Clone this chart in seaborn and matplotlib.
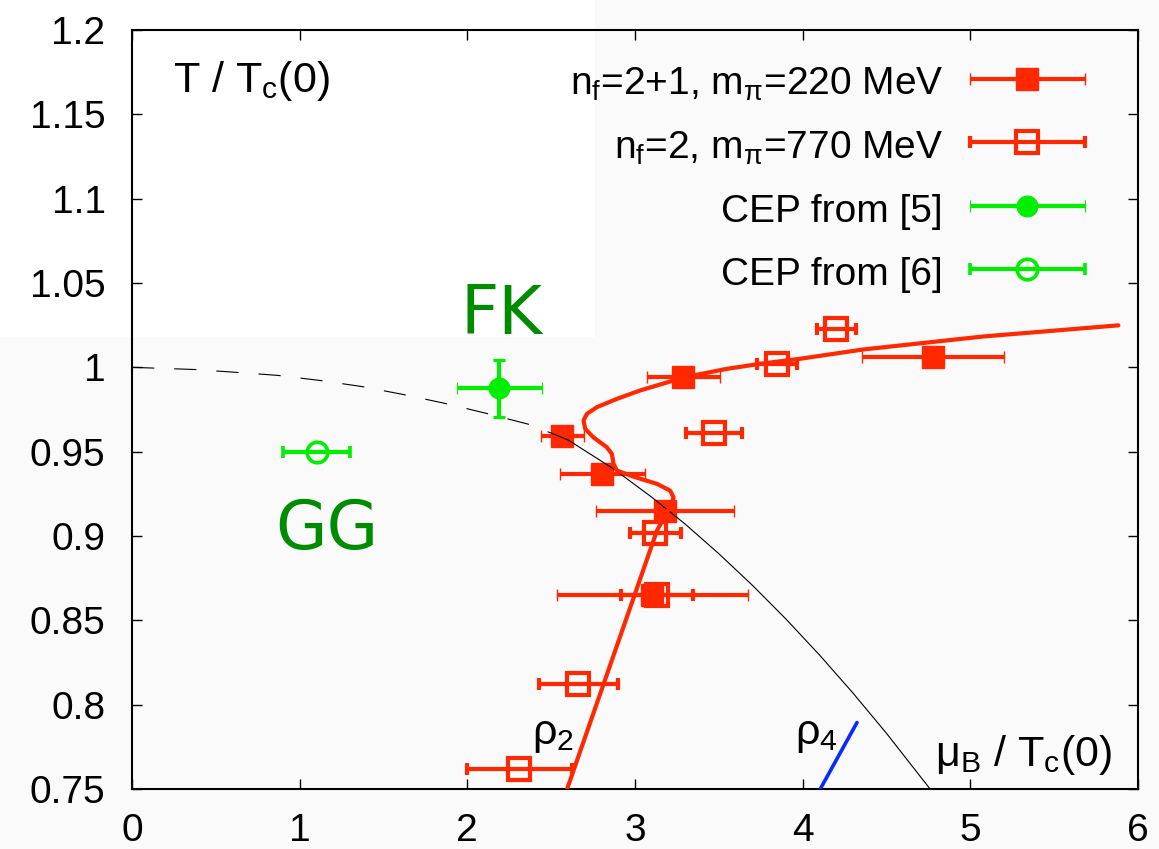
import numpy as np
import matplotlib
matplotlib.use("Agg")
import matplotlib.pyplot as plt
import seaborn as sns
from matplotlib.patches import Rectangle
from matplotlib.legend_handler import HandlerErrorbar
from matplotlib.container import ErrorbarContainer

# ---------------- data ----------------
# n_f = 2+1, m_pi = 220 MeV (filled squares)
nf21_mu = [3.288, 2.566, 2.804, 3.180, 3.103, 4.779]
nf21_T = [0.994, 0.959, 0.937, 0.915, 0.865, 1.006]
nf21_err = [0.218, 0.128, 0.254, 0.412, 0.569, 0.424]

# n_f = 2, m_pi = 770 MeV (open squares)
nf2_mu = [4.200, 3.848, 3.473, 3.121, 3.133, 2.661, 2.309]
nf2_T = [1.0225, 1.0017, 0.961, 0.902, 0.865, 0.812, 0.762]
nf2_err = [0.116, 0.120, 0.167, 0.152, 0.215, 0.236, 0.313]

# CEP from [5] (FK)
cep5_mu = [2.190]
cep5_T = [0.9875]
cep5_xerr = [0.254]
cep5_yerr = [0.0171]

# CEP from [6] (GG)
cep6_mu = [1.102]
cep6_T = [0.950]
cep6_xerr = [0.199]

# red curve
red_mu = [2.595, 3.131, 3.215, 3.230, 3.210, 3.131, 2.991, 2.892, 2.872, 2.862,
          2.832, 2.752, 2.703, 2.693, 2.713, 2.773, 2.892, 3.031, 3.230, 3.349,
          3.548, 3.747, 3.986, 4.362, 5.078, 5.883]
red_T = [0.750, 0.9032, 0.9185, 0.9229, 0.9269, 0.9309, 0.9352, 0.9388, 0.9428, 0.9487,
         0.9526, 0.9585, 0.9635, 0.9685, 0.9724, 0.9764, 0.9813, 0.9863, 0.9922, 0.9952,
         0.9991, 1.0021, 1.0051, 1.0106, 1.0183, 1.0249]

# black curve, dashed part and solid part
blk_dash_mu = [0.0, 0.376, 0.626, 0.873, 1.122, 1.372, 1.617, 1.868, 2.118, 2.375, 2.60]
blk_dash_T = [1.0, 0.9987, 0.997, 0.9952, 0.9922, 0.9886, 0.9839, 0.9786, 0.9726, 0.966, 0.957]
blk_sol_mu = [2.60, 2.872, 3.10, 3.30, 3.50, 3.70, 3.90, 4.10, 4.30, 4.50, 4.76]
blk_sol_T = [0.957, 0.9398, 0.923, 0.907, 0.8895, 0.8708, 0.8508, 0.8295, 0.8069, 0.783, 0.75]

# blue rho_4 segment
blue_mu = [4.105, 4.324]
blue_T = [0.75, 0.7894]

xticks = [0, 1, 2, 3, 4, 5, 6]
xtick_labels = ["0", "1", "2", "3", "4", "5", "6"]
yticks = [0.75, 0.8, 0.85, 0.9, 0.95, 1.0, 1.05, 1.1, 1.15, 1.2]
ytick_labels = ["0.75", "0.8", "0.85", "0.9", "0.95", "1", "1.05", "1.1", "1.15", "1.2"]

labels = ["n$_f$=2+1, m$_\\pi$=220 MeV", "n$_f$=2, m$_\\pi$=770 MeV",
          "CEP from [5]", "CEP from [6]"]

# ---------------- style ----------------
sns.set_theme(style="ticks")
plt.rcParams["font.family"] = ["Liberation Sans", "DejaVu Sans"]
plt.rcParams["mathtext.fontset"] = "custom"
plt.rcParams["mathtext.rm"] = "Liberation Sans"
plt.rcParams["mathtext.it"] = "Liberation Sans:italic"
plt.rcParams["mathtext.default"] = "rm"
plt.rcParams["text.color"] = "black"
plt.rcParams["axes.labelcolor"] = "black"
plt.rcParams["xtick.color"] = "black"
plt.rcParams["ytick.color"] = "black"
plt.rcParams["legend.labelcolor"] = "black"

RED = "#ff2800"
GREEN = "#00ee00"
DKGREEN = "#008c00"
BLUE = "#0a28ff"

W, H = 1159, 849
fig = plt.figure(figsize=(W / 100, H / 100), dpi=100, facecolor="#fafafa")
fig.add_artist(Rectangle((0, 1 - 337 / H), 595 / W, 337 / H, transform=fig.transFigure,
                         facecolor="white", edgecolor="none", zorder=-5))
ax = fig.add_axes([132 / W, 1 - 789 / H, (1138 - 132) / W, (789 - 30) / H])
ax.set_facecolor("none")

eb_kw = dict(ls="none", capsize=4.5, capthick=2.3, elinewidth=3.0, zorder=2.5)

h1 = ax.errorbar(nf21_mu, nf21_T, xerr=nf21_err, fmt="s", color=RED, ms=16,
                 mec=RED, mew=1, label=labels[0], **eb_kw)
h2 = ax.errorbar(nf2_mu, nf2_T, xerr=nf2_err, fmt="s", color=RED, ms=16.5,
                 mfc="none", mec=RED, mew=3.0, label=labels[1], **eb_kw)
h3 = ax.errorbar(cep5_mu, cep5_T, xerr=cep5_xerr, fmt="o", color=GREEN, ms=15,
                 mec=GREEN, mew=0.8, label=labels[2], **eb_kw)
ax.errorbar(cep5_mu, cep5_T, yerr=cep5_yerr, fmt="none", ecolor=GREEN, **eb_kw)
h4 = ax.errorbar(cep6_mu, cep6_T, xerr=cep6_xerr, fmt="o", color=GREEN, ms=14.8,
                 mfc="none", mec=GREEN, mew=2.6, label=labels[3], **eb_kw)

# curves
sns.lineplot(x=blk_dash_mu, y=blk_dash_T, sort=False, estimator=None, color="black",
             lw=0.8, ax=ax, zorder=3, legend=False)
ax.lines[-1].set_dashes((20, 18))
sns.lineplot(x=blk_sol_mu, y=blk_sol_T, sort=False, estimator=None, color="black",
             lw=0.8, ax=ax, zorder=3, legend=False)
sns.lineplot(x=red_mu, y=red_T, sort=False, estimator=None, color=RED,
             lw=3.0, ax=ax, zorder=3.2, legend=False)
ax.lines[-1].set_solid_joinstyle("round")
sns.lineplot(x=blue_mu, y=blue_T, sort=False, estimator=None, color=BLUE,
             lw=2.6, ax=ax, zorder=3, legend=False)

# axes
ax.set_xlim(0, 6)
ax.set_ylim(0.75, 1.2)
ax.set_xticks(xticks)
ax.set_xticklabels(xtick_labels)
ax.set_yticks(yticks)
ax.set_yticklabels(ytick_labels)
ax.tick_params(axis="both", direction="in", length=7.5, width=1, top=True, right=True,
               labelsize=28, colors="black")
ax.tick_params(axis="x", pad=17)
ax.tick_params(axis="y", pad=19)
for s in ax.spines.values():
    s.set_linewidth(1.5)
    s.set_color("black")
ax.set_xlabel("")
ax.set_ylabel("")

# annotations
ax.text(0.245, 1.1634, "T / T$_c$(0)", fontsize=31, ha="left", va="baseline")
ax.text(5.847, 0.7636, "$\\mu_B$ / T$_c$(0)", fontsize=31, ha="right", va="baseline")
ax.text(2.387, 0.7767, "$\\rho_2$", fontsize=31, ha="left", va="baseline")
ax.text(3.956, 0.7769, "$\\rho_4$", fontsize=31, ha="left", va="baseline")
ax.text(1.957, 1.02, "FK", fontsize=48, ha="left", va="baseline", color=DKGREEN,
        family="DejaVu Sans")
ax.text(0.853, 0.8923, "GG", fontsize=48, ha="left", va="baseline", color=DKGREEN,
        family="DejaVu Sans")

leg = ax.legend(handles=[h1, h2, h3, h4], labels=labels, loc="upper right",
                bbox_to_anchor=(1085 / W, 1 - 62 / H), bbox_transform=fig.transFigure,
                frameon=False, fontsize=28, markerfirst=False, borderpad=0,
                borderaxespad=0, handlelength=2.96, handletextpad=0.69,
                handleheight=1.2, labelspacing=0.57,
                handler_map={ErrorbarContainer: HandlerErrorbar(xerr_size=1.48)})
for t in leg.get_texts():
    t.set_color("black")

fig.savefig("out.png", dpi=100, facecolor=fig.get_facecolor())
